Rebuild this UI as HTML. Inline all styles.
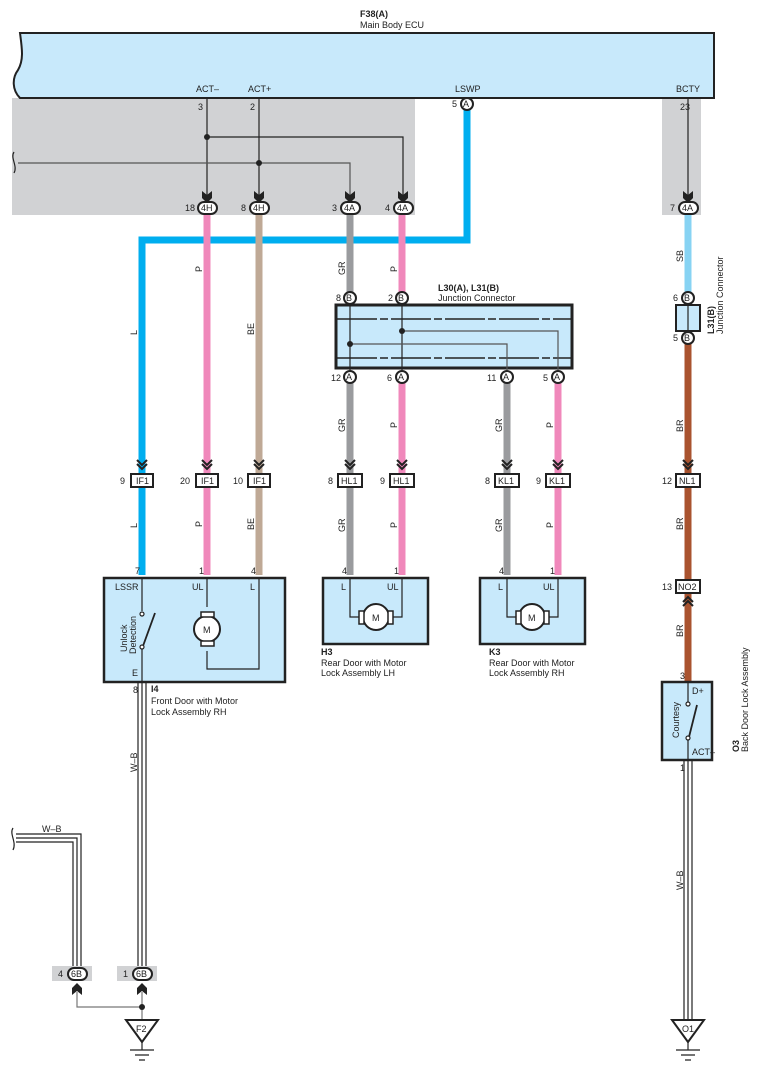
<!DOCTYPE html>
<html><head><meta charset="utf-8"><style>
html,body{margin:0;padding:0;background:#fff;width:761px;height:1073px;overflow:hidden}
svg{display:block}
text{font-family:"Liberation Sans",Arial,sans-serif;font-size:9px;fill:#222}
.b{font-weight:bold}
</style></head><body>
<svg width="761" height="1073" viewBox="0 0 761 1073" xmlns="http://www.w3.org/2000/svg">
<defs>
<g id="chd"><path d="M-5,-6 L0,-1 L5,-6 M-5,-2 L0,3 L5,-2" fill="none" stroke="#222" stroke-width="2"/></g>
<g id="chu"><path d="M-5,6 L0,1 L5,6 M-5,2 L0,-3 L5,2" fill="none" stroke="#222" stroke-width="2"/></g>
<g id="arr"><path d="M-5,-7 L0,-3 L5,-7 L5,0 L0,5 L-5,0 Z" fill="#222"/></g>
<g id="arru"><path d="M-5,7 L0,3 L5,7 L5,0 L0,-5 L-5,0 Z" fill="#222"/></g>
</defs>

<rect x="12" y="98" width="403" height="117" fill="#d1d2d4"/>
<rect x="662" y="98" width="39" height="117" fill="#d1d2d4"/>

<path d="M20,33 L714,33 L714,98 L20,98 C12,90 12,78 18,70 C24,60 22,48 20,33 Z" fill="#c8e9fb" stroke="#222" stroke-width="2"/>
<text x="360" y="17" class="b">F38(A)</text>
<text x="360" y="28">Main Body ECU</text>
<text x="196" y="92">ACT–</text>
<text x="248" y="92">ACT+</text>
<text x="455" y="92">LSWP</text>
<text x="676" y="92">BCTY</text>
<text x="198" y="110">3</text>
<text x="250" y="110">2</text>
<text x="680" y="110">23</text>

<g stroke="#222" stroke-width="1.2" fill="none">
<path d="M207,98 V198"/><path d="M259,98 V198"/>
<path d="M207,137 H403 V198"/>
<path d="M18,163 H350 V198" stroke="#555"/>
<path d="M688,98 V198"/>
</g>
<path d="M14,152 C10,158 18,166 14,173" fill="none" stroke="#222" stroke-width="1.2"/>
<circle cx="207" cy="137" r="3" fill="#222"/><circle cx="259" cy="163" r="3" fill="#222"/>
<use href="#arr" x="207" y="198"/><use href="#arr" x="259" y="198"/><use href="#arr" x="350" y="198"/><use href="#arr" x="403" y="198"/><use href="#arr" x="688" y="198"/>

<g fill="none" stroke-width="7">
<path d="M467,110 V240 H142 V575" stroke="#00aeef" stroke-linejoin="miter"/>
<path d="M207,215 V575" stroke="#f088bb"/>
<path d="M259,215 V575" stroke="#bfa996"/>
<path d="M350,215 V292 M350,383 V575" stroke="#9a9b9e"/>
<path d="M402,215 V292 M402,383 V575" stroke="#f088bb"/>
<path d="M507,383 V575" stroke="#9a9b9e"/>
<path d="M558,383 V575" stroke="#f088bb"/>
<path d="M688,215 V292" stroke="#87d3f3"/>
<path d="M688,344 V682" stroke="#a9532f"/>
</g>

<g stroke="#222" stroke-width="2" fill="#fff">
<rect x="198" y="202" width="19" height="12" rx="6"/>
<rect x="250" y="202" width="19" height="12" rx="6"/>
<rect x="341" y="202" width="19" height="12" rx="6"/>
<rect x="394" y="202" width="19" height="12" rx="6"/>
<rect x="679" y="202" width="19" height="12" rx="6"/>
<circle cx="467" cy="104" r="6"/>
</g>
<g font-size="8">
<text x="201" y="211">4H</text><text x="253" y="211">4H</text><text x="344" y="211">4A</text><text x="397" y="211">4A</text><text x="682" y="211">4A</text>
<text x="463" y="107">A</text>
</g>
<text x="185" y="211">18</text><text x="241" y="211">8</text><text x="332" y="211">3</text><text x="385" y="211">4</text><text x="670" y="211">7</text><text x="452" y="107">5</text>

<g font-size="8">
<text transform="translate(137,335) rotate(-90)">L</text>
<text transform="translate(202,272) rotate(-90)">P</text>
<text transform="translate(254,335) rotate(-90)">BE</text>
<text transform="translate(345,275) rotate(-90)">GR</text>
<text transform="translate(397,272) rotate(-90)">P</text>
<text transform="translate(345,432) rotate(-90)">GR</text>
<text transform="translate(397,428) rotate(-90)">P</text>
<text transform="translate(502,432) rotate(-90)">GR</text>
<text transform="translate(553,428) rotate(-90)">P</text>
<text transform="translate(137,528) rotate(-90)">L</text>
<text transform="translate(202,527) rotate(-90)">P</text>
<text transform="translate(254,530) rotate(-90)">BE</text>
<text transform="translate(345,532) rotate(-90)">GR</text>
<text transform="translate(397,528) rotate(-90)">P</text>
<text transform="translate(502,532) rotate(-90)">GR</text>
<text transform="translate(553,528) rotate(-90)">P</text>
<text transform="translate(683,262) rotate(-90)">SB</text>
<text transform="translate(683,432) rotate(-90)">BR</text>
<text transform="translate(683,530) rotate(-90)">BR</text>
<text transform="translate(683,637) rotate(-90)">BR</text>
<text transform="translate(137,772) rotate(-90)">W–B</text>
<text transform="translate(683,890) rotate(-90)">W–B</text>
</g>

<rect x="336" y="305" width="236" height="63" fill="#c8e9fb" stroke="#222" stroke-width="3"/>
<path d="M337,319 H571 M337,358 H571" stroke="#222" stroke-width="1.5" stroke-dasharray="40,3,8,3"/>
<g stroke="#222" stroke-width="1.2" fill="none">
<path d="M350,305 V370 M402,305 V370"/>
<path d="M402,331 H558 V370" stroke="#555"/>
<path d="M350,344 H507 V370" stroke="#555"/>
</g>
<circle cx="402" cy="331" r="3" fill="#222"/><circle cx="350" cy="344" r="3" fill="#222"/>
<g stroke="#222" stroke-width="2" fill="#fff">
<circle cx="350" cy="298" r="6"/><circle cx="402" cy="298" r="6"/>
<circle cx="350" cy="377" r="6"/><circle cx="402" cy="377" r="6"/><circle cx="507" cy="377" r="6"/><circle cx="558" cy="377" r="6"/>
<circle cx="688" cy="298" r="6"/><circle cx="688" cy="338" r="6"/>
</g>
<g font-size="8">
<text x="346" y="301">B</text><text x="398" y="301">B</text>
<text x="346" y="380">A</text><text x="398" y="380">A</text><text x="503" y="380">A</text><text x="554" y="380">A</text>
<text x="684" y="301">B</text><text x="684" y="341">B</text>
</g>
<text x="336" y="301">8</text><text x="388" y="301">2</text>
<text x="331" y="381">12</text><text x="387" y="381">6</text><text x="487" y="381">11</text><text x="543" y="381">5</text>
<text x="673" y="301">6</text><text x="673" y="341">5</text>
<text x="438" y="291" class="b">L30(A), L31(B)</text>
<text x="438" y="301">Junction Connector</text>
<rect x="676" y="305" width="24" height="26" fill="#c8e9fb" stroke="#222" stroke-width="2"/>
<path d="M688,305 V331" stroke="#222" stroke-width="1.2"/>
<text transform="translate(714,334) rotate(-90)" class="b">L31(B)</text>
<text transform="translate(723,334) rotate(-90)">Junction Connector</text>

<g>
<use href="#chd" x="142" y="466"/><use href="#chd" x="207" y="466"/><use href="#chd" x="259" y="466"/>
<use href="#chd" x="350" y="466"/><use href="#chd" x="402" y="466"/><use href="#chd" x="507" y="466"/><use href="#chd" x="558" y="466"/><use href="#chd" x="688" y="466"/>
</g>
<g stroke="#222" stroke-width="2" fill="#fff">
<rect x="131" y="474" width="22" height="13"/><rect x="196" y="474" width="22" height="13"/><rect x="248" y="474" width="22" height="13"/>
<rect x="338" y="474" width="24" height="13"/><rect x="390" y="474" width="24" height="13"/><rect x="495" y="474" width="24" height="13"/><rect x="546" y="474" width="24" height="13"/><rect x="676" y="474" width="24" height="13"/>
<rect x="676" y="580" width="24" height="13"/>
</g>
<g font-size="8.5">
<text x="136" y="484">IF1</text><text x="201" y="484">IF1</text><text x="253" y="484">IF1</text>
<text x="341" y="484">HL1</text><text x="393" y="484">HL1</text><text x="498" y="484">KL1</text><text x="549" y="484">KL1</text><text x="679" y="484">NL1</text>
<text x="678" y="590">NO2</text>
</g>
<text x="120" y="484">9</text><text x="180" y="484">20</text><text x="233" y="484">10</text>
<text x="328" y="484">8</text><text x="380" y="484">9</text><text x="485" y="484">8</text><text x="536" y="484">9</text><text x="662" y="484">12</text>
<text x="662" y="590">13</text>
<use href="#chu" x="688" y="600"/>

<rect x="104" y="578" width="181" height="104" fill="#c8e9fb" stroke="#222" stroke-width="2.5"/>
<g stroke="#222" stroke-width="1.2" fill="none">
<path d="M142,578 V611 M142,647 V682"/>
<path d="M143,646 L155,613" stroke-width="1.8"/>
<path d="M207,578 V607 M207,651 V669 H259 V578"/>
<circle cx="142" cy="614" r="2" fill="#fff"/><circle cx="142" cy="647" r="2" fill="#fff"/>
<circle cx="207" cy="629" r="13" fill="#fff" stroke-width="2"/>
<rect x="201" y="612" width="13" height="5" fill="#fff" stroke-width="1.5"/>
<rect x="201" y="641" width="13" height="5" fill="#fff" stroke-width="1.5"/>
</g>
<text x="203" y="633">M</text>
<text x="115" y="590">LSSR</text><text x="192" y="590">UL</text><text x="250" y="590">L</text><text x="132" y="676">E</text>
<text transform="translate(127,652) rotate(-90)">Unlock</text>
<text transform="translate(136,654) rotate(-90)">Detection</text>
<text x="135" y="574">7</text><text x="199" y="574">1</text><text x="251" y="574">4</text>
<text x="133" y="693">8</text>
<text x="151" y="692" class="b">I4</text>
<text x="151" y="704">Front Door with Motor</text>
<text x="151" y="715">Lock Assembly RH</text>

<rect x="323" y="578" width="105" height="66" fill="#c8e9fb" stroke="#222" stroke-width="2.5"/>
<g stroke="#222" stroke-width="1.2" fill="none">
<path d="M350,578 V617 H362 M389,617 H402 V578"/>
<circle cx="376" cy="617" r="13" fill="#fff" stroke-width="2"/>
<rect x="359" y="611" width="5" height="13" fill="#fff" stroke-width="1.5"/>
<rect x="388" y="611" width="5" height="13" fill="#fff" stroke-width="1.5"/>
</g>
<text x="372" y="621">M</text>
<text x="341" y="590">L</text><text x="387" y="590">UL</text>
<text x="342" y="574">4</text><text x="394" y="574">1</text>
<text x="321" y="655" class="b">H3</text>
<text x="321" y="666">Rear Door with Motor</text>
<text x="321" y="676">Lock Assembly LH</text>

<rect x="480" y="578" width="105" height="66" fill="#c8e9fb" stroke="#222" stroke-width="2.5"/>
<g stroke="#222" stroke-width="1.2" fill="none">
<path d="M507,578 V617 H519 M546,617 H558 V578"/>
<circle cx="532" cy="617" r="13" fill="#fff" stroke-width="2"/>
<rect x="516" y="611" width="5" height="13" fill="#fff" stroke-width="1.5"/>
<rect x="544" y="611" width="5" height="13" fill="#fff" stroke-width="1.5"/>
</g>
<text x="528" y="621">M</text>
<text x="498" y="590">L</text><text x="543" y="590">UL</text>
<text x="499" y="574">4</text><text x="550" y="574">1</text>
<text x="489" y="655" class="b">K3</text>
<text x="489" y="666">Rear Door with Motor</text>
<text x="489" y="676">Lock Assembly RH</text>

<rect x="662" y="682" width="50" height="78" fill="#c8e9fb" stroke="#222" stroke-width="2.5"/>
<g stroke="#222" stroke-width="1.2" fill="none">
<path d="M688,682 V702 M688,739 V760"/>
<path d="M689,737 L697,705" stroke-width="1.8"/>
<circle cx="688" cy="704" r="2" fill="#fff"/><circle cx="688" cy="738" r="2" fill="#fff"/>
</g>
<text x="692" y="694">D+</text><text x="692" y="755">ACT–</text>
<text transform="translate(679,738) rotate(-90)">Courtesy</text>
<text x="680" y="679">3</text><text x="680" y="771">1</text>
<text transform="translate(739,752) rotate(-90)" class="b">O3</text>
<text transform="translate(748,752) rotate(-90)">Back Door Lock Assembly</text>

<g fill="none" stroke="#222" stroke-width="1.2">
<path d="M138,682 V968 M142,682 V968 M146,682 V968"/>
<path d="M684,760 V1020 M688,760 V1020 M692,760 V1020"/>
<path d="M16,834 H81 V968 M16,838 H77 V968 M16,842 H73 V968"/>
</g>
<path d="M13,828 C9,834 17,842 13,850" fill="none" stroke="#222" stroke-width="1.2"/>
<text x="42" y="832">W–B</text>

<rect x="52" y="966" width="40" height="15" fill="#d1d2d4"/>
<rect x="117" y="966" width="40" height="15" fill="#d1d2d4"/>
<g stroke="#222" stroke-width="2" fill="#fff">
<rect x="68" y="968" width="19" height="12" rx="6"/>
<rect x="133" y="968" width="19" height="12" rx="6"/>
</g>
<text x="71" y="977" font-size="8">6B</text><text x="136" y="977" font-size="8">6B</text>
<text x="58" y="977">4</text><text x="123" y="977">1</text>
<use href="#arru" x="77" y="988"/><use href="#arru" x="142" y="988"/>
<path d="M77,992 V1007 H142 M142,992 V1020" fill="none" stroke="#777" stroke-width="1.2"/>
<circle cx="142" cy="1007" r="3" fill="#222"/>

<g stroke="#222" fill="#fff">
<path d="M126,1020 H158 L142,1042 Z" stroke-width="2"/>
<path d="M142,1042 V1050 M130,1050 H154 M135,1055 H149 M139,1060 H145" stroke-width="1.2"/>
<path d="M672,1020 H704 L688,1042 Z" stroke-width="2"/>
<path d="M688,1042 V1050 M676,1050 H700 M681,1055 H695 M685,1060 H691" stroke-width="1.2"/>
</g>
<text x="136" y="1032">F2</text><text x="682" y="1032">O1</text>
</svg>
</body></html>
